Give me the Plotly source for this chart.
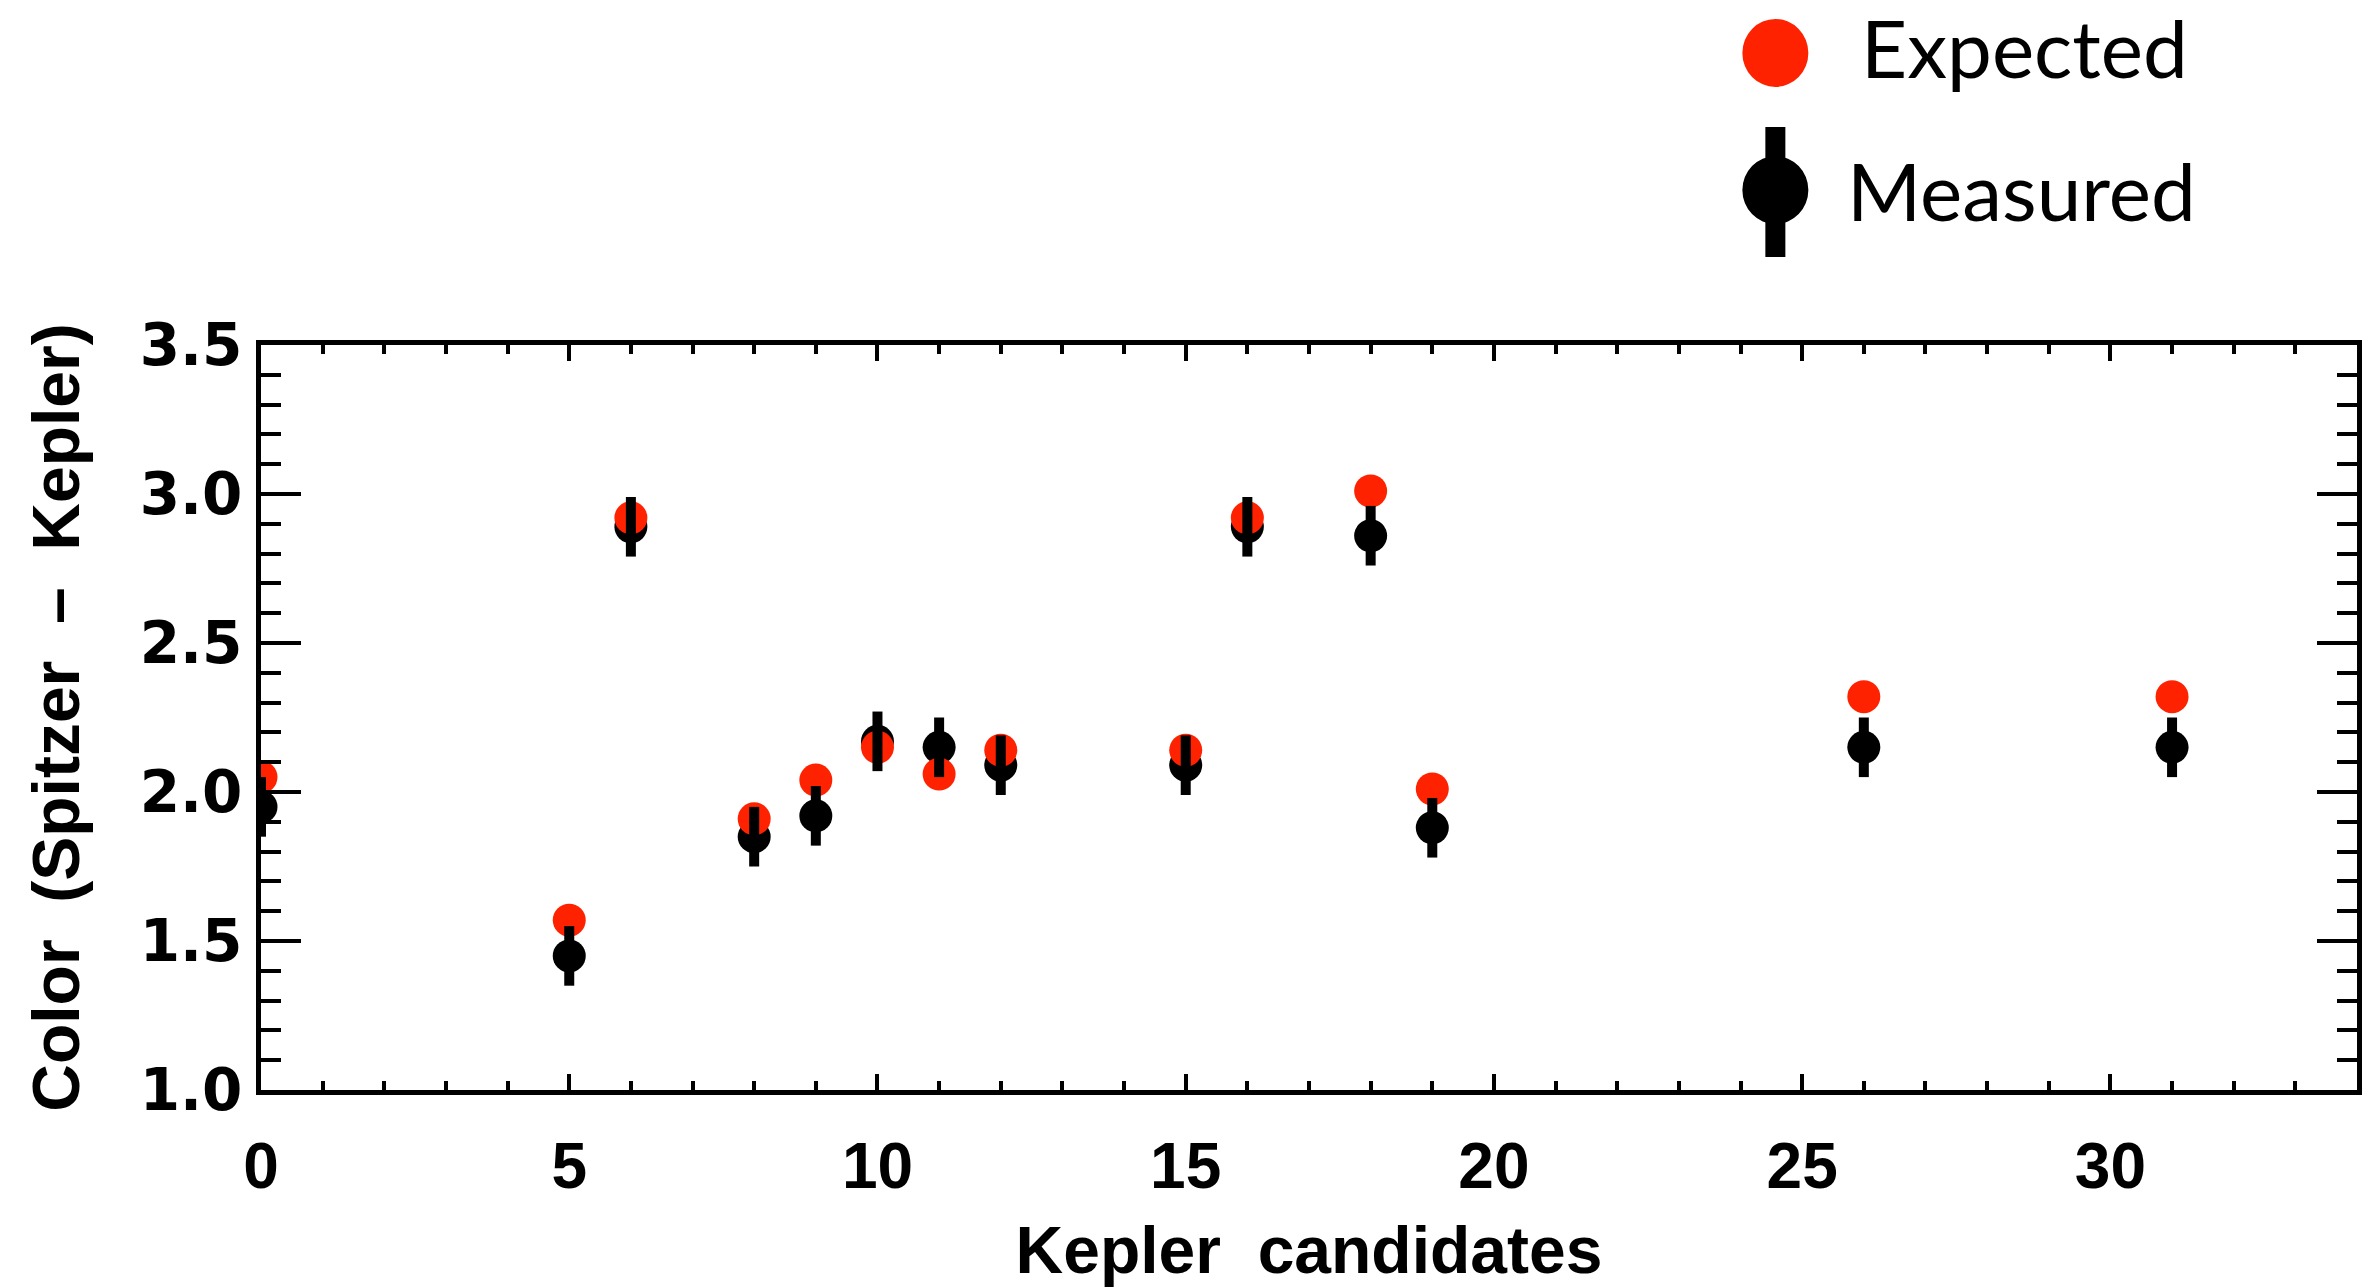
import plotly.graph_objects as go

# Kepler candidate index and Spitzer - Kepler colours
candidates = [0, 5, 6, 8, 9, 10, 11, 12, 15, 16, 18, 19, 26, 31]
expected = [2.05, 1.57, 2.92, 1.91, 2.04, 2.15, 2.06, 2.14, 2.14, 2.92, 3.01, 2.01, 2.32, 2.32]
measured = [1.95, 1.45, 2.89, 1.85, 1.92, 2.17, 2.15, 2.09, 2.09, 2.89, 2.86, 1.88, 2.15, 2.15]
measured_err = [0.10, 0.10, 0.10, 0.10, 0.10, 0.10, 0.10, 0.10, 0.10, 0.10, 0.10, 0.10, 0.10, 0.10]

x_ticks = [0, 5, 10, 15, 20, 25, 30]
y_ticks = [1.0, 1.5, 2.0, 2.5, 3.0, 3.5]

RED = "#ff2200"
BLACK = "#000000"
X_TICK_FONT = dict(family="Liberation Sans", size=64, color=BLACK, weight="bold")
Y_TICK_FONT = dict(family="DejaVu Sans", size=58, color=BLACK, weight="bold")
TITLE_FONT = dict(family="Liberation Sans", size=66, color=BLACK, weight="bold")
LEGEND_FONT = dict(family="Lato", size=80, color=BLACK)

fig = go.Figure()

# measured points (circles), expected on top, then the error bars over both
fig.add_trace(go.Scatter(
    x=candidates, y=measured, mode="markers", name="Measured",
    marker=dict(color=BLACK, size=33, line=dict(width=0)),
    showlegend=False,
))
fig.add_trace(go.Scatter(
    x=candidates, y=expected, mode="markers", name="Expected",
    marker=dict(color=RED, size=33, line=dict(width=0)),
    showlegend=False,
))
fig.add_trace(go.Scatter(
    x=candidates, y=measured, mode="markers", name="Measured error",
    marker=dict(color=BLACK, size=1, opacity=0),
    error_y=dict(type="data", array=measured_err, visible=True,
                 color=BLACK, thickness=10, width=0),
    showlegend=False,
))

axis_common = dict(
    showline=True, linecolor=BLACK, linewidth=5, mirror="allticks",
    ticks="inside", tickcolor=BLACK, tickwidth=4,
    showgrid=False, zeroline=False,
)

fig.update_xaxes(
    range=[0, 34], tickmode="array", tickvals=x_ticks,
    ticktext=[str(v) for v in x_ticks], ticklen=16, tickfont=X_TICK_FONT,
    minor=dict(dtick=1, ticklen=9, tickwidth=4, tickcolor=BLACK, ticks="inside", showgrid=False),
    ticklabelstandoff=16,
    title=dict(text="Kepler \u00a0candidates", font=TITLE_FONT, standoff=35),
    **axis_common,
)
fig.update_yaxes(
    range=[1.0, 3.5], tickmode="array", tickvals=y_ticks,
    ticktext=[f"{v:.1f}" for v in y_ticks], ticklen=40, tickfont=Y_TICK_FONT,
    minor=dict(dtick=0.1, ticklen=20, tickwidth=4, tickcolor=BLACK, ticks="inside", showgrid=False),
    ticklabelstandoff=2,
    title=dict(text="Color \u00a0(Spitzer \u00a0\u2013\u00a0 Kepler)", font=TITLE_FONT, standoff=40),
    **axis_common,
)

# legend drawn in the top margin: symbols as pixel-sized shapes, labels as text
lx, ly_exp, ly_meas = 0.7225, 1.392, 1.208
fig.add_shape(type="circle", xref="paper", yref="paper",
              xsizemode="pixel", ysizemode="pixel", xanchor=lx, yanchor=ly_exp,
              x0=-33, x1=33, y0=-34, y1=34, fillcolor=RED, line=dict(width=0))
fig.add_shape(type="rect", xref="paper", yref="paper",
              xsizemode="pixel", ysizemode="pixel", xanchor=lx, yanchor=ly_meas,
              x0=-10, x1=10, y0=-67, y1=63, fillcolor=BLACK, line=dict(width=0))
fig.add_shape(type="circle", xref="paper", yref="paper",
              xsizemode="pixel", ysizemode="pixel", xanchor=lx, yanchor=ly_meas,
              x0=-33, x1=33, y0=-34, y1=34, fillcolor=BLACK, line=dict(width=0))
fig.add_annotation(text="Expected", xref="paper", yref="paper", x=0.7625, y=1.400,
                   xanchor="left", yanchor="middle", showarrow=False, font=LEGEND_FONT)
fig.add_annotation(text="Measured", xref="paper", yref="paper", x=0.7559, y=ly_meas,
                   xanchor="left", yanchor="middle", showarrow=False, font=LEGEND_FONT)

fig.update_layout(
    width=2369, height=1287,
    margin=dict(l=261, r=12, t=345, b=197, autoexpand=False),
    paper_bgcolor="white", plot_bgcolor="white",
    showlegend=False,
)

fig.write_html("out.html", config={"displayModeBar": False})
